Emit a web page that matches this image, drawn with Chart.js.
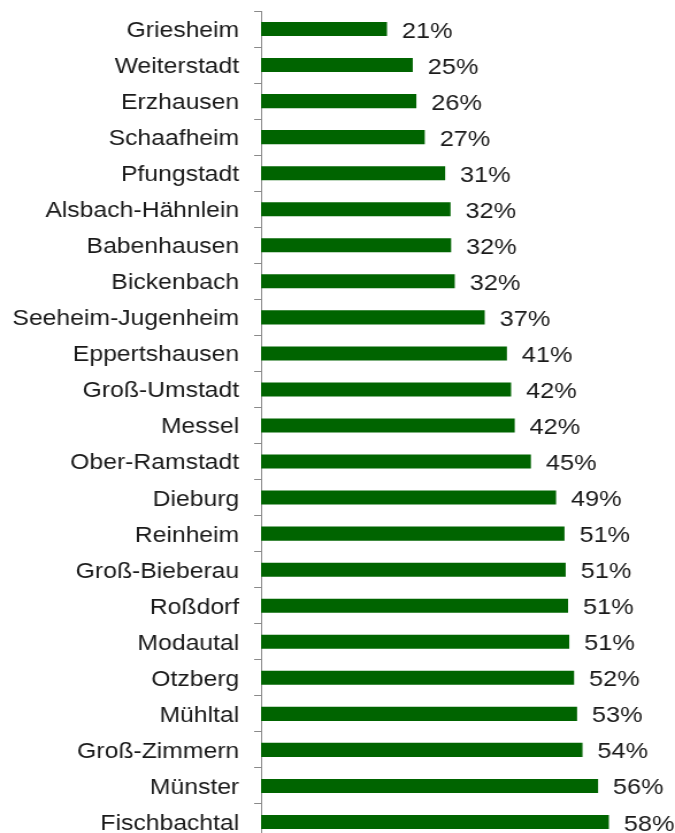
<!DOCTYPE html>
<html>
<head>
<meta charset="utf-8">
<script src="https://cdn.jsdelivr.net/npm/chart.js@4"></script>
<style>
  html, body { margin: 0; padding: 0; background: #fff; overflow: hidden; }
</style>
</head>
<body>
<canvas id="myChart" width="587" height="845" style="width:675px;height:845px;display:block"></canvas>
<script>
var towns = [
  'Griesheim', 'Weiterstadt', 'Erzhausen', 'Schaafheim', 'Pfungstadt',
  'Alsbach-Hähnlein', 'Babenhausen', 'Bickenbach', 'Seeheim-Jugenheim',
  'Eppertshausen', 'Groß-Umstadt', 'Messel', 'Ober-Ramstadt', 'Dieburg',
  'Reinheim', 'Groß-Bieberau', 'Roßdorf', 'Modautal', 'Otzberg',
  'Mühltal', 'Groß-Zimmern', 'Münster', 'Fischbachtal'
];
var shares = [
  21.0, 25.3, 25.9, 27.3, 30.7,
  31.6, 31.7, 32.3, 37.3,
  41.0, 41.7, 42.3, 45.0, 49.2,
  50.6, 50.8, 51.2, 51.4, 52.2,
  52.7, 53.6, 56.2, 58.0
];

var textColor = '#1a1a1a';
var barColor = '#006400';

// percent labels right of each bar
var valueLabels = {
  id: 'valueLabels',
  afterDatasetsDraw: function(chart) {
    var ctx = chart.ctx;
    var meta = chart.getDatasetMeta(0);
    ctx.save();
    ctx.font = '22px "Liberation Sans", Arial, sans-serif';
    ctx.fillStyle = textColor;
    ctx.textAlign = 'left';
    ctx.textBaseline = 'middle';
    for (var i = 0; i < meta.data.length; i++) {
      var bar = meta.data[i];
      ctx.fillText(Math.round(shares[i]) + '%', bar.x + 13, bar.y + 2.5);
    }
    ctx.restore();
  }
};

var ctx = document.getElementById('myChart').getContext('2d');
new Chart(ctx, {
  type: 'bar',
  data: {
    labels: towns,
    datasets: [{
      data: shares,
      backgroundColor: barColor,
      borderWidth: 0,
      barPercentage: 0.39,
      categoryPercentage: 1.0
    }]
  },
  plugins: [valueLabels],
  options: {
    indexAxis: 'y',
    responsive: false,
    animation: false,
    events: [],
    layout: { padding: { top: 11, bottom: 5, right: 21, left: 0 } },
    plugins: {
      legend: { display: false },
      tooltip: { enabled: false }
    },
    scales: {
      x: {
        display: false,
        min: 0,
        max: 65
      },
      y: {
        afterFit: function(scale) {
          scale.width = 227;
          scale.paddingTop = 0;
          scale.paddingBottom = 0;
        },
        border: { display: true, color: '#8a8a8a', width: 1 },
        grid: {
          display: true,
          drawOnChartArea: false,
          drawTicks: true,
          tickLength: 6,
          color: '#8a8a8a',
          offset: true
        },
        ticks: {
          color: textColor,
          padding: 13,
          labelOffset: 2,
          autoSkip: false,
          font: { family: '"Liberation Sans", Arial, sans-serif', size: 21.5 }
        }
      }
    }
  }
});
</script>
</body>
</html>
